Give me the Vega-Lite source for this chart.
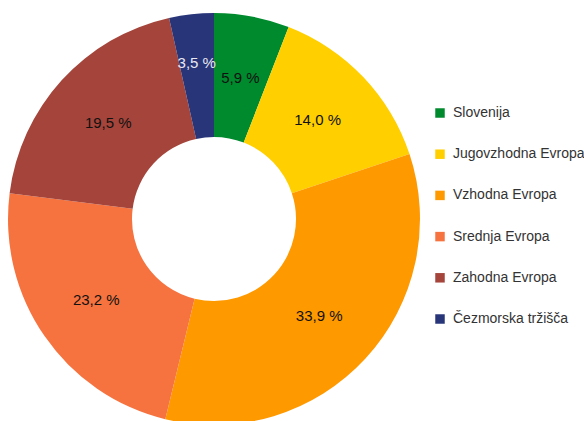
{
  "$schema": "https://vega.github.io/schema/vega-lite/v6.json",
  "width": 428,
  "height": 438,
  "padding": 0,
  "autosize": {"type": "pad"},
  "background": "white",
  "config": {"view": {"stroke": null}, "font": "Liberation Sans"},
  "data": {"values": [
    {"region": "Slovenija", "share": 5.9, "label": "5,9 %", "order": 1},
    {"region": "Jugovzhodna Evropa", "share": 14.0, "label": "14,0 %", "order": 2},
    {"region": "Vzhodna Evropa", "share": 33.9, "label": "33,9 %", "order": 3},
    {"region": "Srednja Evropa", "share": 23.2, "label": "23,2 %", "order": 4},
    {"region": "Zahodna Evropa", "share": 19.5, "label": "19,5 %", "order": 5},
    {"region": "Čezmorska tržišča", "share": 3.5, "label": "3,5 %", "order": 6}
  ]},
  "encoding": {
    "theta": {"field": "share", "type": "quantitative", "stack": true},
    "order": {"field": "order", "type": "quantitative"},
    "color": {
      "field": "region",
      "type": "nominal",
      "scale": {
        "domain": ["Slovenija", "Jugovzhodna Evropa", "Vzhodna Evropa", "Srednja Evropa", "Zahodna Evropa", "Čezmorska tržišča"],
        "range": ["#008A2E", "#FFCF00", "#FF9900", "#F6733F", "#A4443A", "#283579"]
      },
      "legend": {
        "title": null,
        "orient": "none",
        "legendX": 433,
        "legendY": 106,
        "symbolType": "square",
        "symbolSize": 90,
        "symbolStrokeWidth": 0,
        "labelFontSize": 14,
        "labelColor": "#333333",
        "labelFont": "Liberation Sans",
        "labelOffset": 6,
        "rowPadding": 27.2
      }
    }
  },
  "layer": [
    {"mark": {"type": "arc", "outerRadius": 206, "innerRadius": 82}},
    {
      "mark": {"type": "text", "radius": 143, "fontSize": 15, "font": "Liberation Sans"},
      "encoding": {
        "color": {"value": "#111111"},
        "text": {"condition": {"test": "datum.region == 'Čezmorska tržišča'", "value": ""}, "field": "label", "type": "nominal"}
      }
    },
    {
      "mark": {"type": "text", "radius": 157, "fontSize": 15, "font": "Liberation Sans"},
      "encoding": {
        "color": {"value": "#E8E8F2"},
        "text": {"condition": {"test": "datum.region == 'Čezmorska tržišča'", "field": "label", "type": "nominal"}, "value": ""}
      }
    }
  ]
}
